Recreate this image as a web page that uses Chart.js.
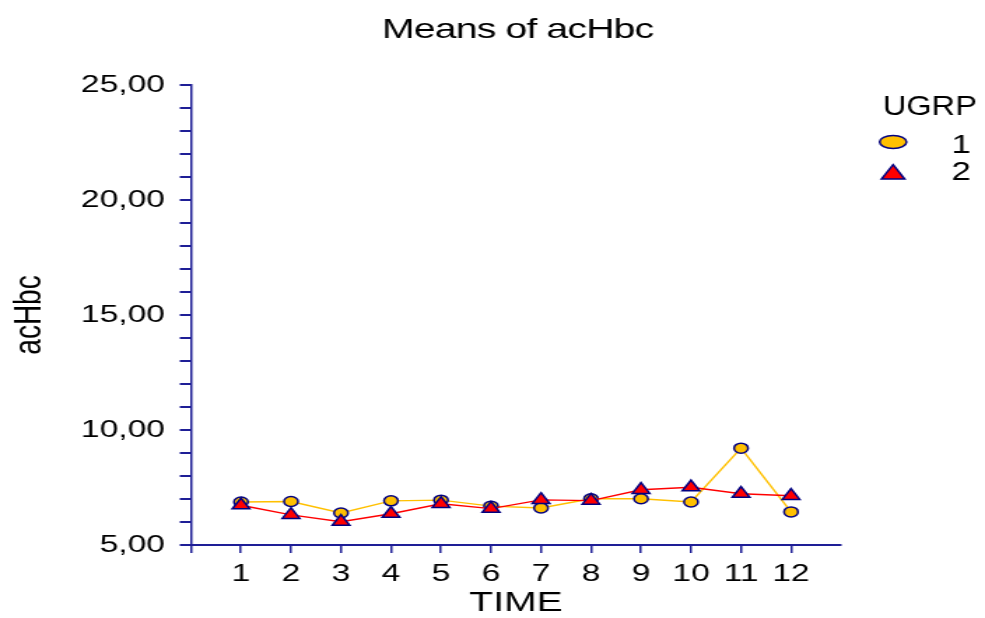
<!DOCTYPE html>
<html>
<head>
<meta charset="utf-8">
<title>Means of acHbc</title>
<script src="https://cdn.jsdelivr.net/npm/chart.js@4.4.1/dist/chart.umd.min.js"></script>
<style>
  html, body { margin: 0; padding: 0; background: #ffffff; }
  #plot { display: block; }
</style>
</head>
<body>
<!-- drawn on a narrower canvas and widened by CSS, giving the wide-lettered SPSS look -->
<canvas id="plot" width="704" height="618" style="width:985px;height:618px"></canvas>
<script>
// Measurement occasions
const timePoints = [1, 2, 3, 4, 5, 6, 7, 8, 9, 10, 11, 12];
const xTickLabels = ['1', '2', '3', '4', '5', '6', '7', '8', '9', '10', '11', '12'];

// Mean acHbc per occasion, by UGRP group
const group1Means = [6.87, 6.89, 6.39, 6.92, 6.95, 6.69, 6.61, 7.01, 7.01, 6.87, 9.21, 6.44];
const group2Means = [6.73, 6.31, 6.01, 6.36, 6.79, 6.58, 6.96, 6.93, 7.40, 7.51, 7.23, 7.14];

// Labelled y ticks (minor ticks every 1 unit are unlabelled)
const yMajorTicks = [5, 10, 15, 20, 25];
const yMajorLabels = ['5,00', '10,00', '15,00', '20,00', '25,00'];

const groupNames = ['1', '2'];
const legendTitle = 'UGRP';
const chartTitle = 'Means of acHbc';
const xAxisTitle = 'TIME';
const yAxisTitle = 'acHbc';

const FONT = "'Liberation Sans', Arial, Helvetica, sans-serif";
const AXIS_BLUE = '#1e1e96';
const NAVY = '#000080';
const GOLD = '#FFC000';
const RED = '#FF0000';

const toPoints = (vals) => timePoints.map((t, i) => ({ x: t, y: vals[i] }));

// Title and UGRP legend
const annotations = {
  id: 'annotations',
  afterDraw(chart) {
    const ctx = chart.ctx;
    ctx.save();
    ctx.fillStyle = '#000000';
    ctx.textBaseline = 'alphabetic';

    // chart title
    ctx.font = '28px ' + FONT;
    ctx.textAlign = 'center';
    if ('letterSpacing' in ctx) ctx.letterSpacing = '-0.6px';
    ctx.fillText(chartTitle, 370, 38);
    if ('letterSpacing' in ctx) ctx.letterSpacing = '0px';

    // legend heading
    ctx.save();
    ctx.font = '28px ' + FONT;
    ctx.textAlign = 'left';
    ctx.translate(631, 115);
    ctx.scale(0.83, 1);
    ctx.fillText(legendTitle, 0, 0);
    ctx.restore();

    // group 1 symbol: ellipse
    ctx.beginPath();
    ctx.ellipse(638.3, 142, 9.6, 6.5, 0, 0, Math.PI * 2);
    ctx.fillStyle = GOLD;
    ctx.fill();
    ctx.lineWidth = 1.5;
    ctx.strokeStyle = NAVY;
    ctx.stroke();

    // group 2 symbol: triangle
    const r = 9.6, cx = 638.3, cy = 174.3;
    ctx.beginPath();
    ctx.moveTo(cx, cy - r);
    ctx.lineTo(cx + r * Math.sin(Math.PI / 3), cy + r / 2);
    ctx.lineTo(cx - r * Math.sin(Math.PI / 3), cy + r / 2);
    ctx.closePath();
    ctx.fillStyle = RED;
    ctx.fill();
    ctx.stroke();

    // group labels
    ctx.fillStyle = '#000000';
    ctx.font = '25px ' + FONT;
    ctx.textAlign = 'center';
    ctx.fillText(groupNames[0], 687, 152.7);
    ctx.fillText(groupNames[1], 687, 180);
    ctx.restore();
  }
};

new Chart(document.getElementById('plot'), {
  type: 'line',
  data: {
    datasets: [
      {
        label: groupNames[0],
        data: toPoints(group1Means),
        borderColor: GOLD,
        borderWidth: 1.4,
        pointStyle: 'circle',
        pointRadius: 5,
        pointBackgroundColor: GOLD,
        pointBorderColor: NAVY,
        pointBorderWidth: 1.5,
        tension: 0,
        order: 1
      },
      {
        label: groupNames[1],
        data: toPoints(group2Means),
        borderColor: RED,
        borderWidth: 1.4,
        pointStyle: 'triangle',
        pointRadius: 7.2,
        pointBackgroundColor: RED,
        pointBorderColor: NAVY,
        pointBorderWidth: 1.5,
        tension: 0,
        order: 0
      }
    ]
  },
  options: {
    responsive: false,
    animation: false,
    devicePixelRatio: 1,
    layout: { padding: { left: 0, top: 85, right: 102.9, bottom: 0 } },
    plugins: {
      legend: { display: false },
      title: { display: false },
      tooltip: { enabled: false }
    },
    scales: {
      x: {
        type: 'linear',
        min: 0,
        max: 13,
        afterFit(scale) { scale.height = 73; },
        border: { display: true, color: AXIS_BLUE, width: 2 },
        grid: {
          drawOnChartArea: false,
          drawTicks: true,
          tickLength: 8,
          lineWidth: 1.5,
          color: (c) => (c.tick && c.tick.value === 13 ? 'rgba(0,0,0,0)' : AXIS_BLUE)
        },
        ticks: {
          stepSize: 1,
          autoSkip: false,
          maxRotation: 0,
          padding: 7,
          color: '#000000',
          font: { family: FONT, size: 24 },
          callback: (v) => {
            const i = timePoints.indexOf(v);
            return i >= 0 ? xTickLabels[i] : '';
          }
        },
        title: {
          display: true,
          text: xAxisTitle,
          color: '#000000',
          font: { family: FONT, size: 28, lineHeight: 1.0 },
          padding: { top: 0, bottom: 1 }
        }
      },
      y: {
        type: 'linear',
        min: 5,
        max: 25,
        afterFit(scale) { scale.width = 136.5; },
        border: { display: true, color: AXIS_BLUE, width: 1.5 },
        grid: {
          drawOnChartArea: false,
          drawTicks: true,
          tickLength: 8,
          lineWidth: 2,
          color: AXIS_BLUE
        },
        ticks: {
          stepSize: 1,
          maxTicksLimit: 100,
          autoSkip: false,
          padding: 10.6,
          color: '#000000',
          font: { family: FONT, size: 24 },
          callback: (v) => {
            const i = yMajorTicks.indexOf(v);
            return i >= 0 ? yMajorLabels[i] : '';
          }
        },
        title: {
          display: true,
          text: yAxisTitle,
          color: '#000000',
          font: { family: FONT, size: 28 },
          padding: { top: 4.6, bottom: 0 }
        }
      }
    }
  },
  plugins: [annotations]
});
</script>
</body>
</html>
